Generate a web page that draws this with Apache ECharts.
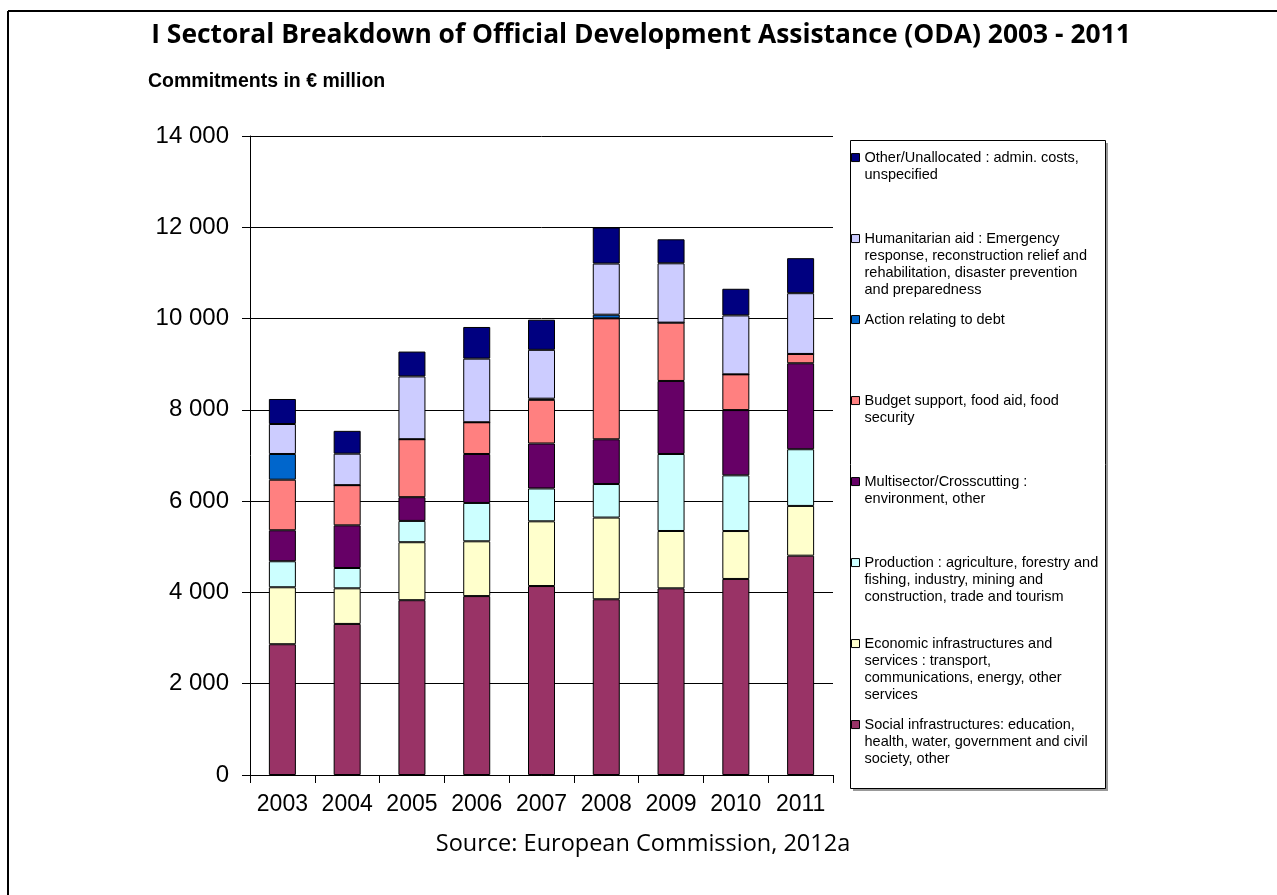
<!DOCTYPE html>
<html>
<head>
<meta charset="utf-8">
<script src="https://cdn.jsdelivr.net/npm/echarts@6/dist/echarts.min.js"></script>
<style>html,body{margin:0;padding:0;background:#fff}#c{width:1277px;height:895px}</style>
</head>
<body>
<div id="c"></div>
<script>
var years = ['2003','2004','2005','2006','2007','2008','2009','2010','2011'];
var social       = [2865, 3310, 3830, 3920, 4140, 3850, 4090, 4295, 4805];
var economic     = [1248,  780, 1270, 1200, 1418, 1790, 1256, 1050, 1090];
var production   = [ 570,  445,  467,  840,  720,  735, 1687, 1220, 1242];
var multisector  = [ 679,  935,  520, 1073,  985,  980, 1600, 1430, 1884];
var budget       = [1108,  880, 1270,  695,  957, 2650, 1278,  783,  204];
var debt         = [ 563,    0,    0,    0,   25,   80,    0,    0,    0];
var humanitarian = [ 657,  690, 1375, 1394, 1070, 1120, 1300, 1291, 1331];
var other        = [ 548,  500,  545,  694,  660,  790,  526,  584,  767];
var yTicks = [0, 2000, 4000, 6000, 8000, 10000, 12000, 14000];

var names = {
  social: 'Social infrastructures: education,\nhealth, water, government and civil\nsociety, other',
  economic: 'Economic infrastructures and\nservices : transport,\ncommunications, energy, other\nservices',
  production: 'Production : agriculture, forestry and\nfishing, industry, mining and\nconstruction, trade and tourism',
  multisector: 'Multisector/Crosscutting :\nenvironment, other',
  budget: 'Budget support, food aid, food\nsecurity',
  debt: 'Action relating to debt',
  humanitarian: 'Humanitarian aid : Emergency\nresponse, reconstruction relief and\nrehabilitation, disaster prevention\nand preparedness',
  other: 'Other/Unallocated : admin. costs,\nunspecified'
};
var order = [
  ['social', social, '#993366'],
  ['economic', economic, '#FFFFCC'],
  ['production', production, '#CCFFFF'],
  ['multisector', multisector, '#660066'],
  ['budget', budget, '#FF8080'],
  ['debt', debt, '#0066CC'],
  ['humanitarian', humanitarian, '#CCCCFF'],
  ['other', other, '#000080']
];

var series = order.map(function (o) {
  return {
    name: names[o[0]],
    type: 'bar',
    stack: 'total',
    barWidth: 27,
    data: o[1],
    itemStyle: { color: o[2], borderColor: '#000', borderWidth: 1 },
    emphasis: { disabled: true }
  };
});

// legend entries (top to bottom in legend box)
var legendOrder = ['other','humanitarian','debt','budget','multisector','production','economic','social'];
var lh = 17.3;
var legends = legendOrder.map(function (k, i) {
  var n = names[k].split('\n').length;
  var H = n * lh;
  var y0 = lh / 2 - 4;
  var iconPath = 'path://M0 ' + y0 + 'L8 ' + y0 + 'L8 ' + (y0 + 8) + 'L0 ' + (y0 + 8) + 'Z M0 0 M0 ' + H;
  return {
    left: 851,
    top: 148.4 + i * 81,
    orient: 'vertical',
    itemWidth: 8,
    itemHeight: H,
    itemGap: 0,
    padding: 0,
    selectedMode: false,
    icon: iconPath,
    itemStyle: { borderColor: '#000', borderWidth: 1 },
    textStyle: {
      fontFamily: 'Liberation Sans, Arial, sans-serif',
      fontSize: 14.5,
      color: '#000',
      lineHeight: lh
    },
    data: [names[k]]
  };
});

var chart = echarts.init(document.getElementById('c'), null, { renderer: 'canvas' });
chart.setOption({
  animation: false,
  backgroundColor: '#fff',
  title: [{
    text: 'I Sectoral Breakdown of Official Development Assistance (ODA) 2003 - 2011',
    left: 636, top: 17, textAlign: 'center',
    textStyle: { fontFamily: 'Open Sans, sans-serif', fontWeight: 'bold', fontSize: 26.4, color: '#000' }
  }, {
    text: 'Commitments in € million',
    left: 143, top: 67,
    textStyle: { fontFamily: 'Liberation Sans, Arial, sans-serif', fontWeight: 'bold', fontSize: 19.5, color: '#000' }
  }, {
    text: 'Source: European Commission, 2012a',
    left: 638, top: 827, textAlign: 'center',
    textStyle: { fontFamily: 'Open Sans, sans-serif', fontWeight: 'normal', fontSize: 23.5, color: '#000' }
  }],
  legend: legends,
  grid: { left: 250, right: 444, top: 136, bottom: 120, containLabel: false },
  xAxis: {
    type: 'category',
    data: years,
    boundaryGap: true,
    axisLine: { lineStyle: { color: '#000', width: 1 } },
    axisTick: { show: true, length: 8, interval: 0, alignWithLabel: false, lineStyle: { color: '#000' } },
    axisLabel: { interval: 0, hideOverlap: false, fontFamily: 'Liberation Sans, Arial, sans-serif', fontSize: 23, color: '#000', margin: 18 }
  },
  yAxis: {
    type: 'value',
    min: yTicks[0], max: yTicks[yTicks.length - 1], interval: 2000,
    axisLine: { show: true, lineStyle: { color: '#000', width: 1 } },
    axisTick: { show: true, length: 8, lineStyle: { color: '#000' } },
    splitLine: { show: true, lineStyle: { color: '#000', width: 1 } },
    axisLabel: {
      fontFamily: 'Liberation Sans, Arial, sans-serif', fontSize: 24, color: '#000', margin: 21,
      formatter: function (v) { return String(v).replace(/\B(?=(\d{3})+(?!\d))/g, ' '); }
    }
  },
  graphic: [
    { type: 'rect', shape: { x: 853, y: 143, width: 255, height: 648 }, style: { fill: '#999', stroke: null }, z: -2, silent: true },
    { type: 'rect', shape: { x: 850.5, y: 140.5, width: 255, height: 648 }, style: { fill: '#fff', stroke: '#000', lineWidth: 1 }, z: -1, silent: true },
    { type: 'line', shape: { x1: 8, y1: 11, x2: 1277, y2: 11 }, style: { stroke: '#000', lineWidth: 2 }, silent: true },
    { type: 'line', shape: { x1: 8, y1: 11, x2: 8, y2: 895 }, style: { stroke: '#000', lineWidth: 2 }, silent: true }
  ],
  series: series
});
</script>
</body>
</html>
